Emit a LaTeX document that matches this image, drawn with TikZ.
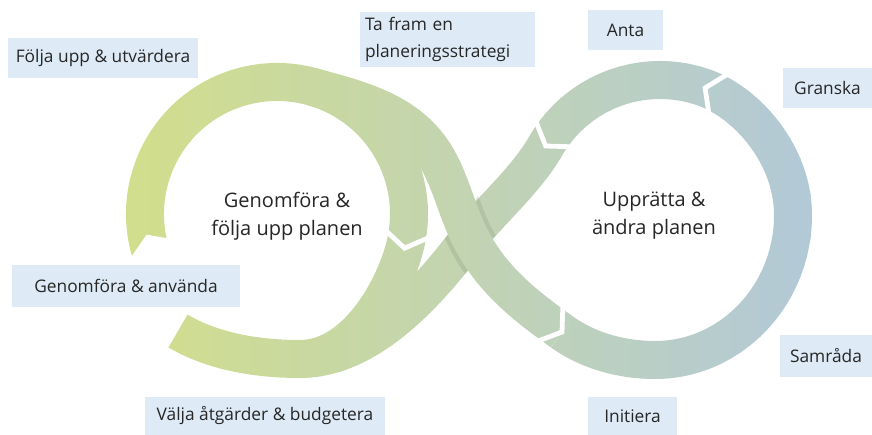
\documentclass[tikz,border=0pt]{standalone}
\usepackage{fontspec}
\setmainfont{Open Sans}
\usetikzlibrary{calc}
\definecolor{gron}{RGB}{209,222,140}
\definecolor{bla}{RGB}{178,201,216}
\definecolor{ruta}{RGB}{222,235,246}
\definecolor{txt}{RGB}{38,38,38}
\begin{document}
\begin{tikzpicture}[x=0.75pt, y=-0.75pt, line cap=butt,
	band/.style={line width=28.5pt},
	gap/.style={white, line width=3.6pt, line join=miter},
	ruta/.style={fill=ruta, text=txt, font=\fontsize{13}{20}\selectfont, inner sep=0pt, minimum height=30pt},
	mitt/.style={text=txt, font=\fontsize{15}{21}\selectfont, align=center}]
	\useasboundingbox (0,0) rectangle (872,435);
	\coordinate (L) at (277,214); \coordinate (R) at (660,212);
	\coordinate (X) at (470,237); \coordinate (J4) at (562,332);
	% left ring, then the long loop through the right ring
	\def\ring{($(L)+(163:132)$) arc[start angle=163, end angle=375, radius=132] .. controls (392.8,291.7) and (355,359) .. (300,359)}
	\def\bandA{($(L)+(-75:132)$) .. controls (357.4,98.9) and (400,109.7) .. (428,145) .. controls (449,171.7) and (454.7,206.7) .. (X) .. controls (491.6,279.7) and (525.5,305.9) .. (J4)}
	\def\loopR{(J4) .. controls (590.4,352.3) and (625,360) .. (655,360) .. controls (731,360) and (793,295) .. (793,215) .. controls (793,155) and (747.4,103.4) .. ($(R)+(-70:132)$) arc[start angle=-70, end angle=-150, radius=132] .. controls (525.7,180.6) and (490,211) .. (X) .. controls (436.5,280.5) and (375,359) .. (300,359) .. controls (245,359) and (205,347) .. (178,331)}
	\foreach \i in {0,...,70}{
		\pgfmathtruncatemacro\p{max(0,min(100,10*\i/6.87))}
		\begin{scope}
			\clip (120+10*\i,0) rectangle (130.6+10*\i,435);
			\draw[band, bla!\p!gron] \ring \loopR;
			\begin{scope}
				\clip (457.6,284.2) -- (427.5,260.9) -- (482.5,189.9) -- (512.5,213) -- cycle;
				\draw[band, line width=35pt, black, opacity=0.08] \bandA;
			\end{scope}
			\draw[band, bla!\p!gron] \bandA;
		\end{scope}}
	% arrow gaps
	\draw[gap] ($(L)+(9:153)$) -- ($(L)+(15:132)$) -- ($(L)+(9:111)$);
	\draw[gap] ($(R)+(-144:153)$) -- ($(R)+(-150:132)$) -- ($(R)+(-144:111)$);
	\draw[gap] ($(R)+(-64:153)$) -- ($(R)+(-70:132)$) -- ($(R)+(-64:111)$);
	\draw[gap] ($(J4)+(271.9:25.2)$) -- (J4) -- ($(J4)+(159.3:25.2)$);
	\fill[white] ($(L)+(159:108)$) -- ($(L)+(166.5:108)$) -- ($(L)+(171:132)$) -- ($(L)+(162.4:156)$) -- ($(L)+(159:156)$) -- cycle;
	% labels
	\node[ruta, minimum width=142.5pt] (folja) at (103,58) {Följa upp \& utvärdera};
	\node[ruta, minimum width=131.25pt, minimum height=41.25pt, text width=123.75pt, align=left] (tafram) at (447.5,39.5) {Ta fram en\\planeringsstrategi};
	\node[ruta, minimum width=56.25pt] (anta) at (625.5,30) {Anta};
	\node[ruta, minimum width=66.75pt] (granska) at (827.5,88) {Granska};
	\node[ruta, minimum width=69pt, minimum height=31.5pt] (samrada) at (826,356) {Samråda};
	\node[ruta, minimum width=66.75pt, minimum height=28.5pt] (initiera) at (632.5,416) {Initiera};
	\node[ruta, minimum width=180pt, minimum height=28.5pt] (valja) at (265,416) {Välja åtgärder \& budgetera};
	\node[ruta, minimum width=171pt, minimum height=31.5pt] (anvanda) at (126,286) {Genomföra \& använda};
	\node[mitt] (genomfora) at (287,216) {Genomföra \&\\följa upp planen};
	\node[mitt] (uppratta) at (654,216) {Upprätta \&\\ändra planen};
\end{tikzpicture}
\end{document}
